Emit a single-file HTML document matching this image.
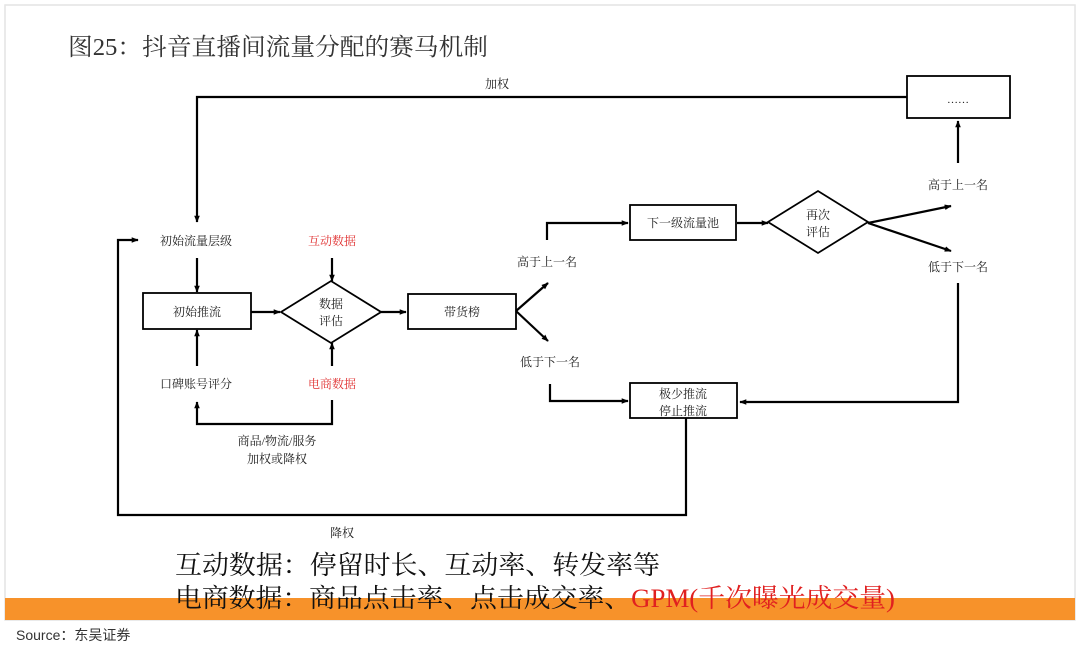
<!DOCTYPE html>
<html><head><meta charset="utf-8"><style>
html,body{margin:0;padding:0;background:#fff;}
svg text{font-family:"Liberation Serif","Noto Serif CJK SC",serif;}
</style></head><body>
<svg width="1080" height="645" viewBox="0 0 1080 645" xmlns="http://www.w3.org/2000/svg">
<defs><marker id="a" viewBox="0 0 10 10" refX="9" refY="5" markerWidth="7" markerHeight="7" orient="auto-start-reverse" markerUnits="userSpaceOnUse"><path d="M0,1 L10,5 L0,9 z" fill="#000"/></marker></defs>
<rect x="5" y="5" width="1070" height="615" fill="#fff" stroke="#e4e4e4" stroke-width="1.5"/>
<rect x="5" y="598" width="1070" height="22" fill="#f7922a"/>
<text x="68" y="55" font-size="24" fill="#333" textLength="420" lengthAdjust="spacingAndGlyphs">图25：抖音直播间流量分配的赛马机制</text>
<g stroke="#000" stroke-width="2.2" fill="none">
<polyline points="907,97 197,97 197,222" marker-end="url(#a)"/>
<rect x="907" y="76" width="103" height="42" stroke-width="1.8"/>
<line x1="958" y1="163" x2="958" y2="121" marker-end="url(#a)"/>
<polyline points="958,283 958,402 740,402" marker-end="url(#a)"/>
<rect x="630" y="205" width="106" height="35" stroke-width="1.8"/>
<polygon points="768,222 818,191 868,222 818,253" stroke-width="1.8"/>
<line x1="737" y1="223" x2="768" y2="223" marker-end="url(#a)"/>
<line x1="868" y1="223" x2="951" y2="206" marker-end="url(#a)"/>
<line x1="868" y1="223" x2="951" y2="251" marker-end="url(#a)"/>
<polyline points="547,240 547,223 628,223" marker-end="url(#a)"/>
<polyline points="550,384 550,401 628,401" marker-end="url(#a)"/>
<rect x="630" y="383" width="107" height="35" stroke-width="1.8"/>
<rect x="408" y="294" width="108" height="35" stroke-width="1.8"/>
<line x1="516" y1="311" x2="548" y2="283" marker-end="url(#a)"/>
<line x1="516" y1="311" x2="548" y2="341" marker-end="url(#a)"/>
<rect x="143" y="293" width="108" height="36" stroke-width="1.8"/>
<polygon points="281,312 331,281 381,312 331,343" stroke-width="1.8"/>
<line x1="251" y1="312" x2="280" y2="312" marker-end="url(#a)"/>
<line x1="381" y1="312" x2="406" y2="312" marker-end="url(#a)"/>
<line x1="197" y1="258" x2="197" y2="292" marker-end="url(#a)"/>
<line x1="197" y1="366" x2="197" y2="330" marker-end="url(#a)"/>
<line x1="332" y1="258" x2="332" y2="281" marker-end="url(#a)"/>
<line x1="332" y1="366" x2="332" y2="343" marker-end="url(#a)"/>
<polyline points="332,400 332,424 197,424 197,402" marker-end="url(#a)"/>
<polyline points="686,418 686,515 118,515 118,240 138,240" marker-end="url(#a)"/>
</g>
<g font-size="12" fill="#222" text-anchor="middle">
<text x="497" y="88">加权</text>
<text x="958" y="103" font-size="11">……</text>
<text x="958" y="189">高于上一名</text>
<text x="958" y="271">低于下一名</text>
<text x="683" y="227">下一级流量池</text>
<text x="818" y="219">再次</text>
<text x="818" y="236">评估</text>
<text x="547" y="266">高于上一名</text>
<text x="550" y="366">低于下一名</text>
<text x="683" y="398">极少推流</text>
<text x="683" y="415">停止推流</text>
<text x="462" y="316">带货榜</text>
<text x="197" y="316">初始推流</text>
<text x="331" y="308">数据</text>
<text x="331" y="325">评估</text>
<text x="196" y="245">初始流量层级</text>
<text x="196" y="388">口碑账号评分</text>
<text x="332" y="245" fill="#e03030">互动数据</text>
<text x="332" y="388" fill="#e03030">电商数据</text>
<text x="277" y="445">商品/物流/服务</text>
<text x="277" y="463">加权或降权</text>
<text x="342" y="537">降权</text>
</g>
<g style="font-family:'Liberation Sans','Noto Sans CJK SC',sans-serif" font-size="26" fill="#111">
<text x="175" y="574" textLength="485" lengthAdjust="spacingAndGlyphs">互动数据：停留时长、互动率、转发率等</text>
<text x="175" y="607" textLength="720" lengthAdjust="spacingAndGlyphs">电商数据：商品点击率、点击成交率、<tspan fill="#e02020">GPM(千次曝光成交量)</tspan></text>
</g>
<text x="16" y="640" font-size="14" fill="#333" style="font-family:'Liberation Sans','Noto Sans CJK SC',sans-serif">Source：东吴证券</text>
</svg>
</body></html>
